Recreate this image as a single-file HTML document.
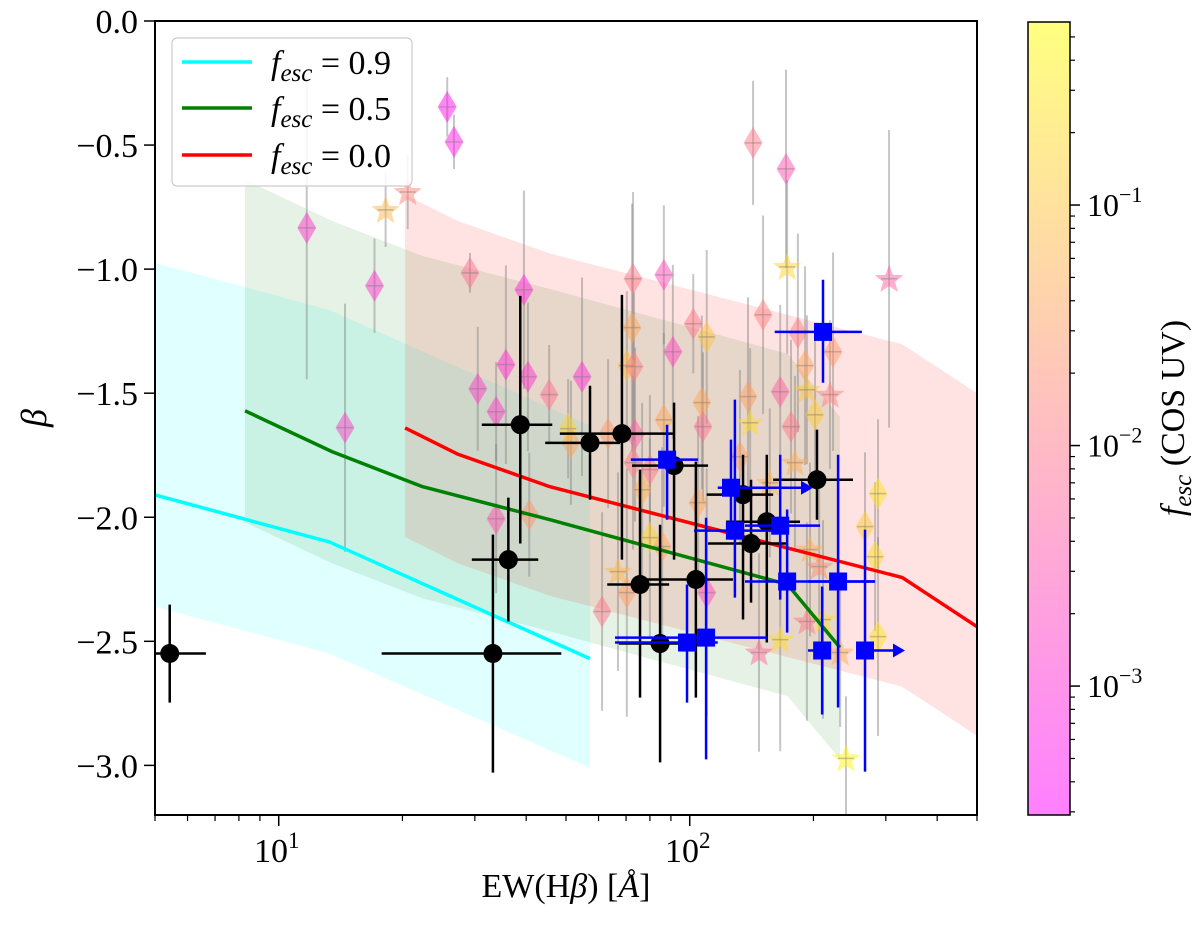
<!DOCTYPE html>
<html>
<head>
<meta charset="utf-8">
<style>
  html,body{margin:0;padding:0;background:#fff;}
  svg{display:block;font-family:"Liberation Serif","DejaVu Serif",serif;}
</style>
</head>
<body>
<svg id="chart" width="1200" height="926" viewBox="0 0 1200 926" xmlns="http://www.w3.org/2000/svg">
  <defs>
    <clipPath id="plotClip"><rect x="155" y="21" width="822" height="794"/></clipPath>
    <linearGradient id="cbarGrad" x1="0" y1="0" x2="0" y2="1">
      <stop offset="0" stop-color="rgb(255,255,128)"/>
      <stop offset="0.5" stop-color="rgb(255,191,192)"/>
      <stop offset="1" stop-color="rgb(255,128,255)"/>
    </linearGradient>
  </defs>
  <g id="bands" clip-path="url(#plotClip)"></g>
  <g id="colored" clip-path="url(#plotClip)"></g>
  <g id="lines" clip-path="url(#plotClip)"></g>
  <g id="black" clip-path="url(#plotClip)"></g>
  <g id="blue" clip-path="url(#plotClip)"></g>
  <g id="axes"></g>

  <g id="legend">
    <rect x="172" y="38" width="240" height="148" rx="5" fill="#fff" fill-opacity="0.85" stroke="#cccccc" stroke-width="1.2"/>
    <line x1="182" y1="62" x2="252" y2="62" stroke="#00ffff" stroke-width="3.5"/>
    <line x1="182" y1="108" x2="252" y2="108" stroke="#008000" stroke-width="3.5"/>
    <line x1="182" y1="155" x2="252" y2="155" stroke="#ff0000" stroke-width="3.5"/>
    <text x="271" y="74" font-size="34"><tspan font-style="italic">f</tspan><tspan font-style="italic" font-size="25" dy="7">esc</tspan><tspan dy="-7"> = 0.9</tspan></text>
    <text x="271" y="120" font-size="34"><tspan font-style="italic">f</tspan><tspan font-style="italic" font-size="25" dy="7">esc</tspan><tspan dy="-7"> = 0.5</tspan></text>
    <text x="271" y="167" font-size="34"><tspan font-style="italic">f</tspan><tspan font-style="italic" font-size="25" dy="7">esc</tspan><tspan dy="-7"> = 0.0</tspan></text>
  </g>

  <text x="566" y="897" font-size="34" text-anchor="middle">EW(H<tspan font-style="italic">β</tspan>) [<tspan font-style="italic">Å</tspan>]</text>
  <text x="0" y="0" font-size="36" font-style="italic" text-anchor="middle" transform="translate(46,418) rotate(-90)">β</text>

  <g id="cbar">
    <rect x="1028" y="22" width="42" height="793" fill="url(#cbarGrad)" stroke="#000" stroke-width="1.5"/>
  </g>
  <text x="0" y="0" font-size="34" text-anchor="middle" transform="translate(1184,418) rotate(-90)"><tspan font-style="italic">f</tspan><tspan font-style="italic" font-size="25" dy="7">esc</tspan><tspan dy="-7"> (COS UV)</tspan></text>

<script>
// ---------- data ----------
const cyanEW   = [5.0, 13.3, 57.2];
const cyanBeta = [-1.91, -2.10, -2.57];
const cyanUp   = [-0.975, -1.165, -1.63];
const cyanLo   = [-2.36, -2.55, -3.01];

const greenEW   = [8.28, 13.5, 22.4, 45.7, 173, 232];
const greenBeta = [-1.571, -1.736, -1.877, -2.010, -2.271, -2.525];
const greenUp   = [-0.64, -0.806, -0.947, -1.08, -1.341, -1.595];
const greenLo   = [-2.021, -2.186, -2.327, -2.46, -2.721, -2.975];

const redEW   = [20.3, 27.2, 45.7, 329, 500];
const redBeta = [-1.640, -1.745, -1.877, -2.243, -2.441];
const redUp   = [-0.70, -0.805, -0.937, -1.303, -1.50];
const redLo   = [-2.08, -2.185, -2.317, -2.683, -2.881];

const bkEW   = [5.43, 33.2, 36.2, 38.7, 57.2, 68.4, 91.6, 75.7, 103.5, 84.7, 134.8, 141, 154, 204];
const bkBeta = [-2.549, -2.549, -2.171, -1.627, -1.700, -1.663, -1.792, -2.271, -2.251, -2.509, -1.909, -2.106, -2.018, -1.849];
const bkEWlo = [5.0, 17.8, 29.5, 31.2, 44.5, 48.3, 72.4, 63.0, 77.9, 67.3, 110, 110.8, 122.6, 159.6];
const bkEWhi = [6.65, 48.7, 42.8, 46.3, 67.7, 92.1, 110.8, 89.1, 127.4, 106, 159.6, 171.5, 185.5, 249.6];
const bkBhi  = [-2.352, -2.070, -1.921, -1.108, -1.470, -1.104, -1.538, -1.808, -1.776, -2.030, -1.748, -1.849, -1.748, -1.647];
const bkBlo  = [-2.747, -3.029, -2.420, -2.106, -1.929, -2.171, -2.171, -2.727, -2.727, -2.988, -2.412, -2.344, -2.505, -2.010];

const blEW   = [88.1, 126, 128.8, 166, 172.6, 229.6, 98.5, 109.6, 210, 267, 211];
const blBeta = [-1.768, -1.881, -2.054, -2.034, -2.259, -2.259, -2.505, -2.485, -2.537, -2.537, -1.253];
const blEWlo = [71.9, 117, 102.4, 136.3, 136.3, 194, 65.8, 65.8, 194, 267, 161];
const blEWhi = [104.8, 126, 168, 207.6, 282.5, 280.8, 117, 154, 219.4, 267, 262.4];
const blBhi  = [-1.627, -1.687, -1.526, -1.748, -1.969, -1.748, -2.271, -2.002, -2.279, -2.050, -1.043];
const blBlo  = [-2.010, -2.090, -2.324, -2.332, -2.465, -2.767, -2.747, -2.976, -2.795, -3.025, -1.458];
const blArrowTo = [0, 199.5, 0, 0, 0, 0, 0, 0, 0, 334, 0];

const cEW   = [25.7, 26.7, 11.7, 17.1, 29.2, 39.5, 30.5, 33.8, 35.7, 40.4, 45.5, 54.7, 14.5, 33.8, 40.7, 50.6, 51.4, 61.2,
               72.8, 86.5, 72.4, 70.3, 73.2, 102, 110, 91, 150.8, 183.3, 223.2, 190.8, 166, 138.6, 107, 107.7, 86.5, 63.3,
               73.6, 72.8, 80, 76.6, 104.8, 132.5, 176.4, 201.8, 142.6, 171.5, 287.2, 267, 282.5, 287.2, 70.3, 110, 80, 85.7,
               18.2, 20.6, 172.6, 305.5, 192.8, 219.4, 140.3, 180.3, 156.6, 66.9, 196.2, 206.5, 192.8, 211, 166, 147.4, 240, 232.3];
const cBeta = [-0.346, -0.487, -0.834, -1.067, -1.015, -1.083, -1.482, -1.575, -1.385, -1.434, -1.506, -1.434, -1.639, -2.006, -1.990, -1.643, -1.700, -2.380,
               -1.039, -1.023, -1.236, -1.389, -1.393, -1.220, -1.273, -1.333, -1.184, -1.257, -1.333, -1.389, -1.494, -1.514, -1.538, -1.635, -1.607, -1.663,
               -1.667, -1.780, -1.808, -1.889, -1.941, -1.756, -1.635, -1.587, -0.491, -0.596, -1.905, -2.038, -2.159, -2.481, -2.304, -2.304, -2.082, -2.118,
               -0.761, -0.689, -0.991, -1.039, -1.486, -1.506, -1.619, -1.780, -1.861, -2.219, -2.130, -2.199, -2.420, -2.412, -2.493, -2.545, -2.972, -2.545];
const cErr  = [0.12, 0.11, 0.61, 0.19, 0.08, 0.4, 0.25, 0.2, 0.4, 0.3, 0.2, 0.4, 0.5, 0.3, 0.25, 0.2, 0.25, 0.4,
               0.35, 0.28, 0.5, 0.3, 0.3, 0.2, 0.35, 0.35, 0.4, 0.4, 0.4, 0.4, 0.35, 0.4, 0.35, 0.3, 0.35, 0.3,
               0.35, 0.35, 0.3, 0.35, 0.35, 0.35, 0.35, 0.3, 0.25, 0.4, 0.3, 0.3, 0.3, 0.4, 0.5, 0.5, 0.4, 0.4,
               0.15, 0.15, 0.35, 0.6, 0.3, 0.3, 0.3, 0.35, 0.3, 0.4, 0.35, 0.35, 0.4, 0.4, 0.45, 0.4, 0.25, 0.3];
const cLogF = [-3.3, -3.2, -2.9, -2.9, -2.1, -3.1, -2.8, -2.8, -3.0, -2.9, -2.1, -3.0, -2.8, -2.5, -1.6, -0.8, -1.4, -2.0,
               -2.0, -2.6, -1.4, -1.1, -1.9, -2.0, -1.0, -2.7, -1.9, -1.9, -1.6, -1.4, -2.3, -1.5, -1.4, -2.1, -1.4, -1.6,
               -2.3, -2.0, -2.0, -1.3, -1.4, -1.5, -2.0, -0.9, -2.0, -2.5, -0.6, -0.9, -0.7, -0.6, -1.5, -2.6, -0.8, -1.4,
               -1.2, -1.8, -0.8, -2.3, -1.0, -1.9, -0.7, -1.3, -1.2, -1.2, -1.3, -1.7, -2.0, -0.7, -0.7, -2.2, -0.4, -1.3];
const cShape = ['d','d','d','d','d','d','d','d','d','d','d','d','d','d','d','d','d','d',
                'd','d','d','d','d','d','d','d','d','d','d','d','d','d','d','d','d','d',
                'd','d','d','d','d','d','d','d','d','d','d','d','d','d','d','d','d','d',
                's','s','s','s','s','s','s','s','s','s','s','s','s','s','s','s','s','s'];

const yTicks = [0.0, -0.5, -1.0, -1.5, -2.0, -2.5, -3.0];
const yTickLabels = ['0.0', '−0.5', '−1.0', '−1.5', '−2.0', '−2.5', '−3.0'];
const xMajor = [10, 100];
const xMajorExp = ['1', '2'];
const cbMajor = [-1, -2, -3];
const cbMajorExp = ['−1', '−2', '−3'];

// ---------- scales ----------
const X0 = 155, X1 = 977, Y0 = 21, Y1 = 815;
const xmin = 5, xmax = 500, ymin = -3.2, ymax = 0;
function X(ew){ return X0 + (Math.log10(ew) - Math.log10(xmin)) / (Math.log10(xmax) - Math.log10(xmin)) * (X1 - X0); }
function Y(b){ return Y0 + (ymax - b) / (ymax - ymin) * (Y1 - Y0); }
const CB_TOP = 22, CB_BOT = 815, CB_VMAX = -0.239, CB_VMIN = -3.536;
function CY(lf){ return CB_TOP + (CB_VMAX - lf) / (CB_VMAX - CB_VMIN) * (CB_BOT - CB_TOP); }
function cmap(lf){
  let t = (lf - CB_VMIN) / (CB_VMAX - CB_VMIN);
  t = Math.max(0, Math.min(1, t));
  return 'rgb(255,' + Math.round(255 * t) + ',' + Math.round(255 * (1 - t)) + ')';
}

const NS = 'http://www.w3.org/2000/svg';
function mk(tag, attrs, parent){
  const e = document.createElementNS(NS, tag);
  for (const k in attrs) e.setAttribute(k, attrs[k]);
  parent.appendChild(e);
  return e;
}

// ---------- bands ----------
const gBands = document.getElementById('bands');
function band(ew, up, lo, color, op, name){
  let pts = [];
  for (let i = 0; i < ew.length; i++) pts.push(X(ew[i]) + ',' + Y(up[i]));
  for (let i = ew.length - 1; i >= 0; i--) pts.push(X(ew[i]) + ',' + Y(lo[i]));
  const p = mk('polygon', {points: pts.join(' '), fill: color, 'fill-opacity': op}, gBands);
  
  
}
band(cyanEW, cyanUp, cyanLo, '#00ffff', 0.12, 'band-fesc-0.9');
band(greenEW, greenUp, greenLo, '#008000', 0.1, 'band-fesc-0.5');
band(redEW, redUp, redLo, '#ff0000', 0.11, 'band-fesc-0.0');

// ---------- colored points ----------
const gCol = document.getElementById('colored');
function starPath(cx, cy, R){
  const r = R * 0.42; let d = '';
  for (let k = 0; k < 10; k++){
    const ang = -Math.PI / 2 + k * Math.PI / 5;
    const rr = (k % 2 === 0) ? R : r;
    d += (k === 0 ? 'M' : 'L') + (cx + rr * Math.cos(ang)).toFixed(1) + ',' + (cy + rr * Math.sin(ang)).toFixed(1);
  }
  return d + 'Z';
}
for (let i = 0; i < cEW.length; i++){
  const cx = X(cEW[i]);
  const eb = mk('line', {x1: cx, x2: cx, y1: Y(cBeta[i] + cErr[i]), y2: Y(cBeta[i] - cErr[i]), stroke: 'rgba(128,128,128,0.45)', 'stroke-width': 2}, gCol);
  
  
}
for (let i = 0; i < cEW.length; i++){
  const cx = X(cEW[i]), cy = Y(cBeta[i]);
  let m;
  if (cShape[i] === 'd'){
    m = mk('polygon', {points: cx + ',' + (cy - 16) + ' ' + (cx + 9.5) + ',' + cy + ' ' + cx + ',' + (cy + 16) + ' ' + (cx - 9.5) + ',' + cy, fill: cmap(cLogF[i]), 'fill-opacity': 0.5}, gCol);
    
  } else {
    m = mk('path', {d: starPath(cx, cy + 1, 15), fill: cmap(cLogF[i]), 'fill-opacity': 0.5}, gCol);
    
  }
  
  const hx = mk('line', {x1: cx - 8, x2: cx + 8, y1: cy, y2: cy, stroke: 'rgba(128,128,128,0.45)', 'stroke-width': 1.5}, gCol);
  
  
}

// ---------- model lines ----------
const gLines = document.getElementById('lines');
function line(ew, b, color, name){
  const pts = ew.map((e, i) => X(e) + ',' + Y(b[i])).join(' ');
  const p = mk('polyline', {points: pts, fill: 'none', stroke: color, 'stroke-width': 3.5, 'stroke-linejoin': 'round'}, gLines);
  
  
}
line(cyanEW, cyanBeta, '#00ffff', 'line-fesc-0.9');
line(greenEW, greenBeta, '#008000', 'line-fesc-0.5');
line(redEW, redBeta, '#ff0000', 'line-fesc-0.0');

// ---------- black points ----------
const gBk = document.getElementById('black');
for (let i = 0; i < bkEW.length; i++){
  const cx = X(bkEW[i]), cy = Y(bkBeta[i]);
  const ex = mk('line', {x1: X(bkEWlo[i]), x2: X(bkEWhi[i]), y1: cy, y2: cy, stroke: '#000', 'stroke-width': 2.5}, gBk);
  
  
  const ey = mk('line', {x1: cx, x2: cx, y1: Y(bkBhi[i]), y2: Y(bkBlo[i]), stroke: '#000', 'stroke-width': 2.5}, gBk);
  
  
  const c = mk('circle', {cx: cx, cy: cy, r: 9.5, fill: '#000'}, gBk);
  
  
}

// ---------- blue points ----------
const gBl = document.getElementById('blue');
for (let i = 0; i < blEW.length; i++){
  const cx = X(blEW[i]), cy = Y(blBeta[i]);
  const ex = mk('line', {x1: X(blEWlo[i]), x2: X(blEWhi[i]), y1: cy, y2: cy, stroke: '#0000ff', 'stroke-width': 2.5}, gBl);
  
  
  const ey = mk('line', {x1: cx, x2: cx, y1: Y(blBhi[i]), y2: Y(blBlo[i]), stroke: '#0000ff', 'stroke-width': 2.5}, gBl);
  
  
  if (blArrowTo[i] > 0){
    const ax = X(blArrowTo[i]);
    const al = mk('line', {x1: cx, x2: ax - 8, y1: cy, y2: cy, stroke: '#0000ff', 'stroke-width': 2.5}, gBl);
    
    
    const ah = mk('polygon', {points: (ax - 12) + ',' + (cy - 7) + ' ' + ax + ',' + cy + ' ' + (ax - 12) + ',' + (cy + 7), fill: '#0000ff'}, gBl);
    
    
  }
  const s = mk('rect', {x: cx - 9, y: cy - 9, width: 18, height: 18, fill: '#0000ff'}, gBl);
  
  
}

// ---------- axes ----------
const gAx = document.getElementById('axes');
const frame = mk('rect', {x: X0, y: Y0, width: X1 - X0, height: Y1 - Y0, fill: 'none', stroke: '#000', 'stroke-width': 2}, gAx);


for (let i = 0; i < yTicks.length; i++){
  const y = Y(yTicks[i]);
  const t = mk('line', {x1: X0 - 11, x2: X0, y1: y, y2: y, stroke: '#000', 'stroke-width': 1.5}, gAx);
  
  
  const l = mk('text', {x: X0 - 17, y: y + 12, 'font-size': 34, 'text-anchor': 'end'}, gAx);
  l.textContent = yTickLabels[i];
  
  
}
for (let dec = 1; dec <= 100; dec *= 10){
  for (let k = 1; k <= 9; k++){
    const v = dec * k;
    if (v < xmin || v > xmax) continue;
    const x = X(v);
    const major = (k === 1);
    const t = mk('line', {x1: x, x2: x, y1: Y1, y2: Y1 + (major ? 11 : 6), stroke: '#000', 'stroke-width': major ? 1.5 : 1.2}, gAx);
    
    
  }
}
for (let i = 0; i < xMajor.length; i++){
  const x = X(xMajor[i]);
  const l = mk('text', {x: x - 2, y: 862, 'font-size': 34, 'text-anchor': 'middle'}, gAx);
  
  
  const a = mk('tspan', {}, l); a.textContent = '10';
  const b = mk('tspan', {'font-size': 23, dy: -14}, l); b.textContent = xMajorExp[i];
}

// ---------- colorbar ticks ----------
const gCb = document.getElementById('cbar');
for (let d = -4; d <= 0; d++){
  for (let k = 1; k <= 9; k++){
    const lf = d + Math.log10(k);
    if (lf < CB_VMIN || lf > CB_VMAX) continue;
    const y = CY(lf);
    const major = (k === 1);
    const t = mk('line', {x1: 1070, x2: 1070 + (major ? 10 : 5), y1: y, y2: y, stroke: '#000', 'stroke-width': major ? 1.5 : 1.2}, gCb);
    
    
  }
}
for (let i = 0; i < cbMajor.length; i++){
  const y = CY(cbMajor[i]);
  const l = mk('text', {x: 1087, y: y + 11, 'font-size': 32}, gCb);
  
  
  const a = mk('tspan', {}, l); a.textContent = '10';
  const b = mk('tspan', {'font-size': 22, dy: -14}, l); b.textContent = cbMajorExp[i];
}
</script>
</svg>
</body>
</html>
